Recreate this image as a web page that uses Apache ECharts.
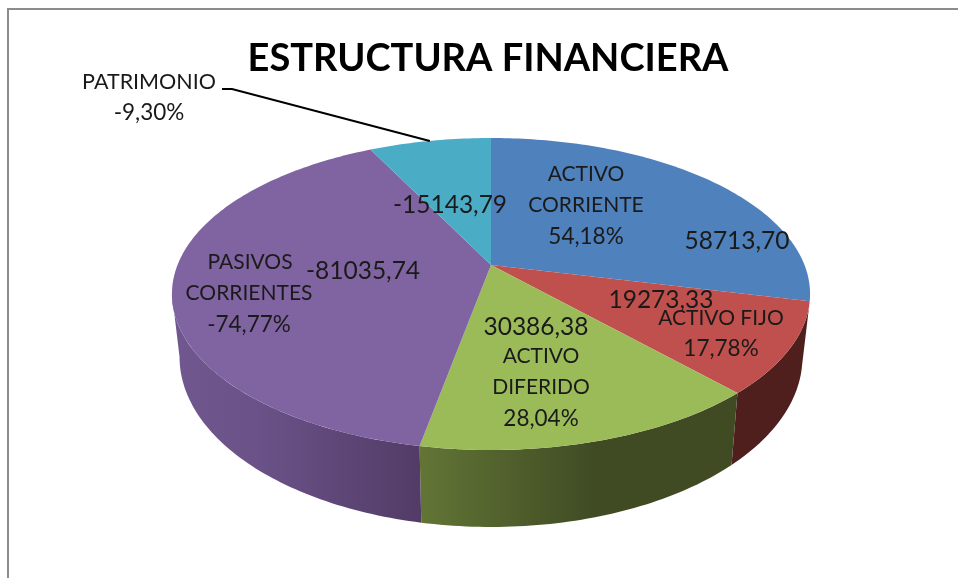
<!DOCTYPE html>
<html>
<head>
<meta charset="utf-8">
<title>Estructura financiera</title>
<style>
  html, body { margin: 0; padding: 0; background: #fff; }
  #chart { width: 958px; height: 578px; }
</style>
<script src="https://cdn.jsdelivr.net/npm/echarts@6/dist/echarts.min.js"></script>
</head>
<body>
<div id="chart"></div>
<script>
// datos del grafico
const categories = ['ACTIVO CORRIENTE', 'ACTIVO FIJO', 'ACTIVO DIFERIDO', 'PASIVOS CORRIENTES', 'PATRIMONIO']
const values = [58713.70, 19273.33, 30386.38, -81035.74, -15143.79]
const percents = ['54,18%', '17,78%', '28,04%', '-74,77%', '-9,30%']

const topColors = ['#4f81bd', '#c0504d', '#9bbb59', '#8064a2', '#4bacc6']
const font = 'Lato'

// angulos de cada porcion (desde arriba, sentido horario)
const total = values.reduce((s, v) => s + Math.abs(v), 0)
let acc = 0
const slices = values.map((v) => {
  const start = acc / total * 360
  acc += Math.abs(v)
  return [start, acc / total * 360]
})

// proyeccion en perspectiva del disco: cara superior e inferior
const topFace = { cx: 491, cy: 265, rx: 313.5, ry: 150.6, k: -0.186 }
const bottomFace = { cx: 491, cy: 325.5, rx: 306, ry: 164, k: -0.186 }

function project(face, deg) {
  const t = deg * Math.PI / 180
  const u = Math.sin(t)
  const v = -Math.cos(t)
  const d = 1 + face.k * v
  return [face.cx + face.rx * u / d, face.cy + face.ry * v / d]
}

function arc(face, from, to) {
  const pts = []
  const n = Math.max(2, Math.ceil(Math.abs(to - from)))
  for (let i = 0; i <= n; i++) {
    pts.push(project(face, from + (to - from) * i / n))
  }
  return pts
}

// el lateral solo se ve entre los puntos mas anchos del disco
const wallFrom = slices[0][1]
const wallTo = 360 - (90 + Math.asin(-topFace.k) * 180 / Math.PI)

const wallFills = [
  '#35567d',
  '#4f1f1e',
  { type: 'linear', x: 0, y: 0, x2: 1, y2: 0, colorStops: [
    { offset: 0, color: '#627535' }, { offset: 0.55, color: '#404b24' }, { offset: 1, color: '#404b24' }
  ] },
  { type: 'linear', x: 0, y: 0, x2: 1, y2: 0, colorStops: [
    { offset: 0, color: '#70578f' }, { offset: 0.35, color: '#6a5288' }, { offset: 1, color: '#523c66' }
  ] },
  '#2f7a8e'
]

// textos: [texto, x, y, tamano]
const labelItems = [
  ['ACTIVO', 586, 174, 21], ['CORRIENTE', 586, 205, 21], [percents[0], 586, 237, 22.5],
  ['58713,70', 737, 241, 24.5],
  ['19273,33', 661, 300, 24.5],
  ['ACTIVO FIJO', 721, 318, 21], [percents[1], 721, 349, 22.5],
  ['30386,38', 536, 327, 24.5],
  ['ACTIVO', 541, 356, 21], ['DIFERIDO', 541, 387, 21], [percents[2], 541, 419, 22.5],
  ['PASIVOS', 250, 262, 21], ['CORRIENTES', 249, 293, 21], [percents[3], 249, 325, 22.5],
  ['-81035,74', 363, 271, 24.5],
  ['-15143,79', 450, 205, 24.5],
  ['PATRIMONIO', 149, 82, 21.5], [percents[4], 149, 113, 22.5]
]

const chart = echarts.init(document.getElementById('chart'))

const option = {
  animation: false,
  backgroundColor: '#fff',
  title: {
    text: 'ESTRUCTURA FINANCIERA',
    left: 483,
    top: 35,
    textAlign: 'center',
    textStyle: { fontFamily: font, fontSize: 38, fontWeight: 'bold', color: '#000' }
  },
  graphic: [{
    type: 'polyline',
    shape: { points: [[8, 578], [8, 9], [958, 9]] },
    style: { stroke: '#8c8c8c', lineWidth: 2, fill: null }
  }],
  series: [
    {
      // lateral del disco
      type: 'custom',
      coordinateSystem: 'none',
      z: 2,
      data: slices,
      renderItem: (params, api) => {
        const from = Math.max(api.value(0), wallFrom)
        const to = Math.min(api.value(1), wallTo)
        if (to <= from) return null
        const points = arc(topFace, from, to).concat(arc(bottomFace, to, from))
        return {
          type: 'polygon',
          shape: { points },
          style: { fill: wallFills[params.dataIndex], stroke: null }
        }
      }
    },
    {
      // cara superior
      type: 'custom',
      coordinateSystem: 'none',
      z: 3,
      data: slices,
      renderItem: (params, api) => {
        const points = [[topFace.cx, topFace.cy]].concat(arc(topFace, api.value(0), api.value(1)))
        return {
          type: 'polygon',
          shape: { points },
          style: { fill: topColors[params.dataIndex], stroke: null }
        }
      }
    },
    {
      // linea guia de PATRIMONIO
      type: 'custom',
      coordinateSystem: 'none',
      z: 4,
      data: [slices[4]],
      renderItem: (params, api) => ({
        type: 'polyline',
        shape: { points: [[222, 89], [232, 89], project(topFace, (api.value(0) + api.value(1)) / 2)] },
        style: { stroke: '#000', lineWidth: 2, fill: null }
      })
    },
    {
      // etiquetas
      type: 'custom',
      coordinateSystem: 'none',
      z: 5,
      data: labelItems.map((d, i) => [i]),
      renderItem: (params) => {
        const d = labelItems[params.dataIndex]
        return {
          type: 'text',
          style: {
            text: d[0], x: d[1], y: d[2],
            align: 'center', verticalAlign: 'middle',
            font: d[3] + 'px ' + font,
            fill: '#1a1a1a'
          }
        }
      }
    }
  ]
}

chart.setOption(option)
</script>
</body>
</html>
